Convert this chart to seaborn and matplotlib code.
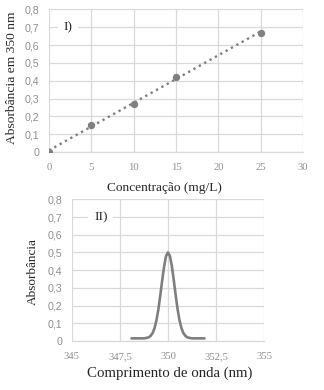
import matplotlib
matplotlib.use("Agg")
import matplotlib.pyplot as plt
import seaborn as sns
import pandas as pd

# ---- data ----
conc = [0, 5, 10, 15, 25]
absorb = [0.003, 0.15, 0.27, 0.42, 0.67]
top_xticks = [0, 5, 10, 15, 20, 25, 30]
top_xlabels = ["0", "5", "10", "15", "20", "25", "30"]
yticks = [0, 0.1, 0.2, 0.3, 0.4, 0.5, 0.6, 0.7, 0.8]
ylabels = ["0", "0,1", "0,2", "0,3", "0,4", "0,5", "0,6", "0,7", "0,8"]

wavelength = [348.1, 348.2, 348.3, 348.4, 348.5, 348.6, 348.7, 348.8, 348.9, 349.0,
              349.1, 349.2, 349.3, 349.4, 349.5, 349.6, 349.7, 349.8, 349.9, 350.0,
              350.1, 350.2, 350.3, 350.4, 350.5, 350.6, 350.7, 350.8, 350.9, 351.0,
              351.1, 351.2, 351.3, 351.4, 351.5, 351.6, 351.7, 351.8, 351.9]
spectrum = [0.015, 0.015, 0.015, 0.015, 0.015, 0.015, 0.015, 0.016, 0.018, 0.021,
            0.030, 0.045, 0.073, 0.117, 0.179, 0.258, 0.344, 0.423, 0.480, 0.500,
            0.480, 0.423, 0.344, 0.258, 0.179, 0.117, 0.073, 0.045, 0.030, 0.021,
            0.018, 0.016, 0.015, 0.015, 0.015, 0.015, 0.015, 0.015, 0.015]
bot_xticks = [345, 347.5, 350, 352.5, 355]
bot_xlabels = ["345", "347,5", "350", "352,5", "355"]

sns.set_style("white")
SERIF = ["Liberation Serif", "DejaVu Serif"]
SANS = ["Liberation Sans", "DejaVu Sans"]
plt.rcParams["font.family"] = SERIF

fig = plt.figure(figsize=(3.24, 3.9), dpi=100)
ax1 = fig.add_axes([0.151, 0.610, 0.784, 0.366])
ax2 = fig.add_axes([0.222, 0.1256, 0.593, 0.3634])

GRID = "#d9d9d9"
TICK = "#8f8f8f"
MARK = "#7f7f7f"

def style(ax, xt, xl, xlim):
    ax.set_xlim(*xlim)
    ax.set_ylim(0, 0.8)
    ax.set_xticks(xt)
    ax.set_xticklabels(xl, fontfamily=SERIF, fontsize=7.7, color=TICK)
    ax.set_yticks(yticks)
    ax.set_yticklabels(ylabels, fontfamily=SANS, fontsize=7.7, color=TICK)
    ax.grid(True, color=GRID, linewidth=0.9)
    ax.set_axisbelow(True)
    for s in ["top", "right", "left"]:
        ax.spines[s].set_visible(False)
    ax.spines["bottom"].set_color(GRID)
    ax.spines["bottom"].set_linewidth(0.9)
    ax.tick_params(axis="x", length=0, pad=7.8)
    ax.tick_params(axis="y", length=0, pad=7)

def place_labels(ax, xl_pos, yl_pos):
    ax.xaxis.label.set_verticalalignment("baseline")
    ax.xaxis.set_label_coords(*xl_pos)
    ax.yaxis.label.set_verticalalignment("center")
    ax.yaxis.set_label_coords(*yl_pos)

df1 = pd.DataFrame({"c": conc, "a": absorb})
sns.regplot(data=df1, x="c", y="a", ax=ax1, ci=None, truncate=True,
            scatter_kws=dict(s=28, color=MARK, zorder=3, linewidths=0, alpha=1),
            line_kws=dict(color=MARK, linestyle=(0, (1, 1.6)), linewidth=1.7, zorder=2))
style(ax1, top_xticks, top_xlabels, (0, 30))
ax1.set_xlabel("Concentração (mg/L)", fontsize=9.65, fontfamily=SERIF)
ax1.set_ylabel("Absorbância em 350 nm", fontsize=9.7, fontfamily=SERIF)
place_labels(ax1, (0.455, -0.273), (-0.144, 0.518))
ax1.text(2.2, 0.70, "I)", fontsize=9.5, fontfamily=SERIF, ha="center", va="center",
         bbox=dict(facecolor="white", edgecolor="none", pad=4))

df2 = pd.DataFrame({"w": wavelength, "s": spectrum})
sns.lineplot(data=df2, x="w", y="s", ax=ax2, color=MARK, linewidth=1.9)
style(ax2, bot_xticks, bot_xlabels, (345, 355))
ax2.set_xlabel("Comprimento de onda (nm)", fontsize=10.7, fontfamily=SERIF)
ax2.set_ylabel("Absorbância", fontsize=9.5, fontfamily=SERIF)
place_labels(ax2, (0.51, -0.254), (-0.203, 0.49))
ax2.text(346.5, 0.70, "II)", fontsize=9.5, fontfamily=SERIF, ha="center", va="center",
         bbox=dict(facecolor="white", edgecolor="none", pad=4))

fig.savefig("out.png", dpi=100)
